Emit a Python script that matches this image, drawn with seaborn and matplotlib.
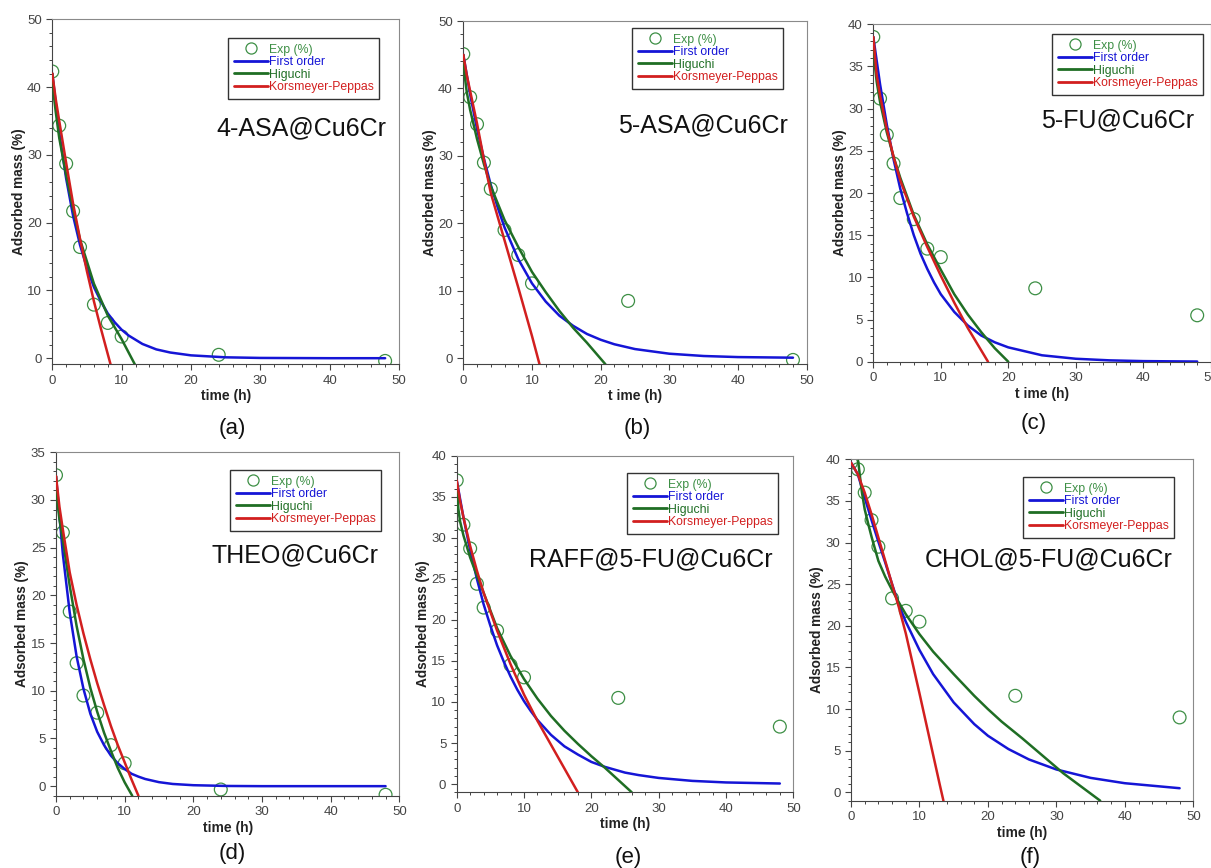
import numpy as np
import pandas as pd
import matplotlib
matplotlib.use("Agg")
import matplotlib.pyplot as plt
from matplotlib.lines import Line2D
from matplotlib.ticker import MultipleLocator, AutoMinorLocator
import seaborn as sns

sns.set_style("white")
plt.rcParams['font.family'] = ['Liberation Sans', 'DejaVu Sans']

# experimental sampling times (h)
t_exp = [0, 1, 2, 3, 4, 6, 8, 10, 24, 48]

# (a) 4-ASA@Cu6Cr
a_exp = [42.3, 34.3, 28.7, 21.7, 16.4, 7.9, 5.2, 3.2, 0.5, -0.4]
a_first_t = [0, 1, 2, 3, 4, 5, 6, 7, 8, 9, 10, 11, 13, 15, 17, 20, 25, 30, 40, 48]
a_first = [42.0, 33.3, 26.5, 21.0, 16.7, 13.3, 10.5, 8.4, 6.6, 5.3, 4.2, 3.35, 2.1, 1.3, 0.84, 0.42, 0.13, 0.04, 0.0, 0.0]
a_hig_t = [0, 0.25, 0.5, 1, 2, 3, 4, 6, 8, 10, 11.9]
a_hig = [42.0, 38.5, 36.3, 32.5, 27.0, 22.0, 17.5, 11.0, 6.3, 2.8, -0.9]
a_kp_t = [0, 0.5, 1, 2, 3, 4, 5, 6, 7, 8, 8.4]
a_kp = [42.0, 38.2, 35.0, 28.8, 22.8, 17.6, 12.8, 8.4, 4.4, 0.6, -0.9]

# (b) 5-ASA@Cu6Cr
b_exp = [45.1, 38.7, 34.7, 29.0, 25.1, 19.0, 15.3, 11.1, 8.5, -0.25]
b_first_t = [0, 1, 2, 3, 4, 5, 6, 8, 10, 12, 14, 16, 18, 20, 22, 25, 30, 35, 40, 48]
b_first = [45.0, 39.1, 34.0, 29.6, 25.7, 22.4, 19.4, 14.7, 11.1, 8.4, 6.3, 4.8, 3.6, 2.74, 2.07, 1.36, 0.67, 0.33, 0.17, 0.08]
b_hig_t = [0, 0.25, 0.5, 1, 2, 3, 4, 6, 8, 10, 12, 14, 16, 18, 20.7]
b_hig = [45.0, 41.5, 39.5, 36.8, 32.5, 28.8, 25.5, 20.5, 16.5, 12.8, 9.8, 7.0, 4.5, 2.3, -0.9]
b_kp_t = [0, 0.5, 1, 2, 3, 4, 6, 8, 10, 11.1]
b_kp = [45.0, 42.0, 39.6, 34.8, 29.5, 24.5, 17.5, 10.5, 3.3, -0.9]

# (c) 5-FU@Cu6Cr
c_exp = [38.5, 31.2, 26.9, 23.5, 19.4, 16.9, 13.4, 12.4, 8.7, 5.5]
c_first_t = [0, 1, 2, 3, 4, 5, 6, 7, 8, 9, 10, 12, 14, 16, 18, 20, 25, 30, 35, 40, 48]
c_first = [38.5, 32.9, 28.1, 24.0, 20.5, 17.6, 15.0, 12.8, 11.0, 9.4, 8.0, 5.9, 4.3, 3.1, 2.3, 1.7, 0.76, 0.35, 0.16, 0.07, 0.02]
c_hig_t = [0, 0.25, 0.5, 1, 2, 3, 4, 6, 8, 10, 12, 14, 16, 18, 20]
c_hig = [38.5, 35.0, 33.2, 30.8, 27.2, 24.3, 21.8, 17.4, 13.9, 10.9, 8.0, 5.6, 3.5, 1.6, 0.0]
c_kp_t = [0, 0.5, 1, 2, 3, 4, 6, 8, 10, 12, 14, 17]
c_kp = [38.5, 34.0, 31.6, 27.6, 24.3, 21.5, 17.2, 13.6, 10.2, 7.0, 4.0, 0.0]

# (d) THEO@Cu6Cr
d_exp = [32.6, 26.6, 18.3, 12.9, 9.5, 7.7, 4.3, 2.4, -0.35, -0.9]
d_first_t = [0, 1, 2, 3, 4, 5, 6, 7, 8, 9, 10, 11, 12, 13, 15, 17, 20, 25, 30, 48]
d_first = [32.5, 24.3, 18.2, 13.6, 10.2, 7.6, 5.7, 4.3, 3.2, 2.4, 1.8, 1.3, 1.0, 0.75, 0.42, 0.23, 0.1, 0.02, 0.0, 0.0]
d_hig_t = [0, 0.25, 0.5, 1, 2, 3, 4, 5, 6, 7, 8, 9, 10, 11.1]
d_hig = [32.5, 29.5, 28.0, 25.8, 21.0, 16.8, 13.3, 10.3, 7.8, 5.6, 3.7, 1.9, 0.4, -1.0]
d_kp_t = [0, 0.5, 1, 2, 3, 4, 5, 6, 7, 8, 9, 10, 11, 12]
d_kp = [32.5, 29.3, 26.9, 22.4, 19.0, 16.0, 13.3, 10.8, 8.5, 6.3, 4.3, 2.5, 0.7, -1.0]

# (e) RAFF@5-FU@Cu6Cr
e_exp = [37.0, 31.6, 28.7, 24.4, 21.5, 18.7, 14.5, 13.0, 10.5, 7.0]
e_first_t = [0, 1, 2, 3, 4, 5, 6, 7, 8, 9, 10, 11, 12, 13, 14, 16, 18, 20, 22, 25, 27, 30, 35, 40, 48]
e_first = [37.0, 32.5, 28.5, 25.0, 21.9, 19.3, 16.9, 14.9, 13.1, 11.5, 10.1, 8.9, 7.8, 6.9, 6.0, 4.6, 3.6, 2.7, 2.1, 1.4, 1.1, 0.75, 0.39, 0.2, 0.07]
e_hig_t = [0, 0.25, 0.5, 1, 2, 3, 4, 6, 8, 10, 12, 14, 16, 18, 20, 22, 24, 26]
e_hig = [37.0, 33.5, 32.0, 30.3, 27.6, 25.4, 23.3, 19.0, 15.6, 12.8, 10.4, 8.3, 6.5, 4.9, 3.4, 2.0, 0.5, -1.0]
e_kp_t = [0, 0.5, 1, 2, 3, 4, 6, 8, 10, 12, 14, 16, 18]
e_kp = [37.0, 34.5, 32.5, 29.0, 26.0, 23.3, 18.7, 14.6, 10.9, 7.7, 4.8, 1.9, -1.0]

# (f) CHOL@5-FU@Cu6Cr
f_exp = [39.6, 38.8, 36.0, 32.7, 29.5, 23.3, 21.8, 20.5, 11.6, 9.0]
f_first_t = [0, 1, 2, 3, 4, 5, 6, 7, 8, 9, 10, 12, 15, 18, 20, 23, 26, 30, 35, 40, 48]
f_first = [39.6, 38.2, 35.4, 32.7, 30.1, 27.6, 25.0, 22.5, 20.5, 18.8, 17.1, 14.2, 10.8, 8.2, 6.8, 5.2, 3.95, 2.75, 1.74, 1.1, 0.5]
f_hig_t = [1.05, 1.3, 1.6, 2, 2.5, 3, 4, 5, 6, 7, 8, 10, 12, 15, 18, 20, 22, 25, 28, 31, 36.4]
f_hig = [39.8, 38.0, 36.0, 34.0, 32.3, 30.7, 27.8, 25.9, 24.3, 22.8, 21.4, 19.0, 16.9, 14.2, 11.6, 10.0, 8.5, 6.5, 4.4, 2.3, -1.0]
f_kp_t = [0, 1, 2, 3, 4, 5, 6, 7, 8, 9, 10, 11, 12, 13, 13.5]
f_kp = [39.6, 38.2, 36.0, 33.4, 30.6, 27.8, 25.0, 22.2, 19.1, 15.5, 11.9, 8.2, 4.5, 0.8, -1.0]

names = ["4-ASA@Cu6Cr", "5-ASA@Cu6Cr", "5-FU@Cu6Cr",
         "THEO@Cu6Cr", "RAFF@5-FU@Cu6Cr", "CHOL@5-FU@Cu6Cr"]
panel_tags = ["(a)", "(b)", "(c)", "(d)", "(e)", "(f)"]
xlabels = ["time (h)", "t ime (h)", "t ime (h)", "time (h)", "time (h)", "time (h)"]
ylims = [(-0.9, 50), (-0.9, 50), (0, 40), (-1, 35), (-1, 40), (-1, 40)]
ymajor = [10, 10, 5, 5, 5, 5]

exps = [a_exp, b_exp, c_exp, d_exp, e_exp, f_exp]
firsts = [(a_first_t, a_first), (b_first_t, b_first), (c_first_t, c_first),
          (d_first_t, d_first), (e_first_t, e_first), (f_first_t, f_first)]
higs = [(a_hig_t, a_hig), (b_hig_t, b_hig), (c_hig_t, c_hig),
        (d_hig_t, d_hig), (e_hig_t, e_hig), (f_hig_t, f_hig)]
kps = [(a_kp_t, a_kp), (b_kp_t, b_kp), (c_kp_t, c_kp),
       (d_kp_t, d_kp), (e_kp_t, e_kp), (f_kp_t, f_kp)]

# layout in pixels: left, right, top, bottom of each plot frame
boxes = [(52.3, 399.0, 19.3, 364.3), (463.3, 806.7, 21.0, 364.3), (873.3, 1210.7, 24.3, 361.7),
         (56.0, 399.3, 452.3, 795.7), (456.7, 793.3, 455.7, 792.3), (851.0, 1193.3, 459.3, 800.7)]
legend_pos = [(228, 38), (632, 28), (1052, 34), (230, 470), (627, 473), (1023, 477)]
name_pos = [(386, 128), (788, 125), (1194, 120), (379, 555), (773, 559), (1173, 559)]
tag_pos = [(232, 429), (637, 429), (1034, 424), (232, 853), (628, 857), (1030, 857)]

W, H = 1211, 868
c_blue = "#1515d6"
c_green = "#1f6e24"
c_red = "#d21f1f"
c_exp = "#3d8f45"

fig = plt.figure(figsize=(W / 100, H / 100), dpi=100)

for i in range(6):
    l, r, t, b = boxes[i]
    ax = fig.add_axes([l / W, 1 - b / H, (r - l) / W, (b - t) / H])

    sns.scatterplot(x=t_exp, y=exps[i], ax=ax, marker="o", s=85,
                    facecolor="none", edgecolor=c_exp, linewidth=0.9, zorder=2)
    sns.lineplot(x=firsts[i][0], y=firsts[i][1], ax=ax, color=c_blue, lw=1.8, zorder=3)
    sns.lineplot(x=higs[i][0], y=higs[i][1], ax=ax, color=c_green, lw=1.8, zorder=4)
    sns.lineplot(x=kps[i][0], y=kps[i][1], ax=ax, color=c_red, lw=1.8, zorder=5)

    ax.set_xlim(0, 50)
    ax.set_ylim(*ylims[i])
    ax.xaxis.set_major_locator(MultipleLocator(10))
    ax.xaxis.set_minor_locator(AutoMinorLocator(5))
    ax.yaxis.set_major_locator(MultipleLocator(ymajor[i]))
    ax.yaxis.set_minor_locator(AutoMinorLocator(5))
    ax.tick_params(which="both", direction="out", colors="#444444", labelsize=9.5)
    ax.tick_params(which="major", length=4, width=0.8)
    ax.tick_params(which="minor", length=2.5, width=0.7)
    ax.tick_params(axis="both", which="both", bottom=True, left=True)
    for side in ["top", "right"]:
        ax.spines[side].set_color("#8a8a8a")
    for side in ["left", "bottom"]:
        ax.spines[side].set_color("#444444")
    ax.set_xlabel(xlabels[i], fontsize=10, fontweight="bold", color="#222222", labelpad=2)
    ax.set_ylabel("Adsorbed mass (%)", fontsize=9.8, fontweight="bold", color="#222222", labelpad=1)

    handles = [
        Line2D([], [], ls="none", marker="o", ms=8, mfc="none", mec=c_exp, mew=0.9),
        Line2D([], [], color=c_blue, lw=2),
        Line2D([], [], color=c_green, lw=2),
        Line2D([], [], color=c_red, lw=2),
    ]
    lx, ly = legend_pos[i]
    leg = ax.legend(handles, ["Exp (%)", "First order", "Higuchi", "Korsmeyer-Peppas"],
                    loc="upper left", bbox_to_anchor=(lx / W, 1 - ly / H),
                    bbox_transform=fig.transFigure, borderaxespad=0, fontsize=8.8,
                    handlelength=2.8, handletextpad=0.1, labelspacing=0.05,
                    borderpad=0.45, fancybox=False, framealpha=1, edgecolor="#333333")
    leg.get_frame().set_linewidth(1.0)
    for txt, col in zip(leg.get_texts(), [c_exp, c_blue, c_green, c_red]):
        txt.set_color(col)

    nx, ny = name_pos[i]
    fig.text(nx / W, 1 - ny / H, names[i], ha="right", va="center", fontsize=18, color="#111111")
    tx, ty = tag_pos[i]
    fig.text(tx / W, 1 - ty / H, panel_tags[i], ha="center", va="center", fontsize=16, color="#111111")

fig.savefig("out.png", dpi=100)
